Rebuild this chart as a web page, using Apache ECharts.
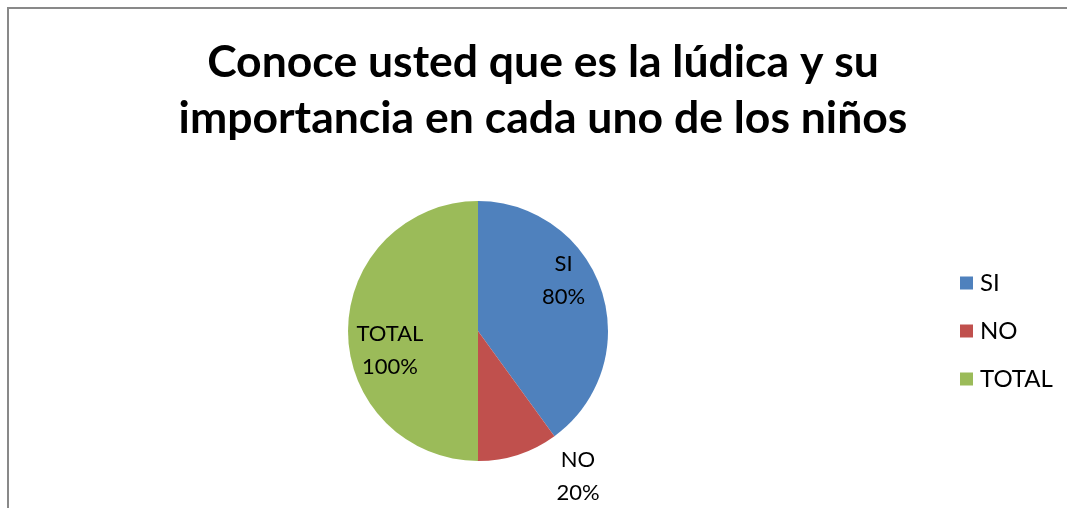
<!DOCTYPE html>
<html>
<head>
<meta charset="utf-8">
<script src="https://cdn.jsdelivr.net/npm/echarts@6/dist/echarts.min.js"></script>
<style>
  html, body { margin: 0; padding: 0; background: #fff; }
  #main { position: absolute; left: 0; top: 0; width: 1067px; height: 508px; }
  #frame { position: absolute; left: 7px; top: 7px; width: 1067px; height: 508px;
    border-left: 2px solid #898989; border-top: 2px solid #898989; pointer-events: none; }
</style>
</head>
<body>
<div id="main"></div>
<div id="frame"></div>
<script>
// datos del gráfico
var categorias = ['SI', 'NO', 'TOTAL'];
var valores = [0.8, 0.2, 1.0];
var colores = ['#4F81BD', '#C0504D', '#9BBB59'];

// desplazamiento de las etiquetas respecto a la posición por defecto
var desplazamientos = [[21, -30], [79, 81], [-20, 19]];

var myChart = echarts.init(document.getElementById('main'));

var datos = categorias.map(function (c, i) {
  return { name: c, value: valores[i], itemStyle: { color: colores[i] } };
});

var option = {
  animation: false,
  title: {
    text: 'Conoce usted que es la lúdica y su\nimportancia en cada uno de los niños',
    left: 543,
    top: 35,
    padding: 0,
    textAlign: 'center',
    textStyle: {
      fontFamily: 'Lato',
      fontWeight: 'bold',
      fontSize: 44.5,
      lineHeight: 56,
      color: '#000'
    }
  },
  legend: {
    orient: 'vertical',
    left: 960,
    top: 271,
    padding: 0,
    itemWidth: 13,
    itemHeight: 13,
    itemGap: 24,
    icon: 'rect',
    data: categorias,
    textStyle: { fontFamily: 'Lato', fontSize: 24, color: '#000', padding: [0, 0, 0, 2] }
  },
  series: [{
    type: 'pie',
    center: [478, 331],
    radius: 130,
    startAngle: 90,
    clockwise: true,
    data: datos,
    label: {
      position: 'inside',
      formatter: function (p) {
        return p.name + '\n' + Math.round(p.value * 100) + '%';
      },
      fontFamily: 'Lato',
      fontSize: 22,
      lineHeight: 33,
      color: '#000'
    },
    labelLine: { show: false },
    labelLayout: function (params) {
      var d = desplazamientos[params.dataIndex];
      return { dx: d[0], dy: d[1] };
    },
    emphasis: { disabled: true }
  }]
};

myChart.setOption(option);
</script>
</body>
</html>
